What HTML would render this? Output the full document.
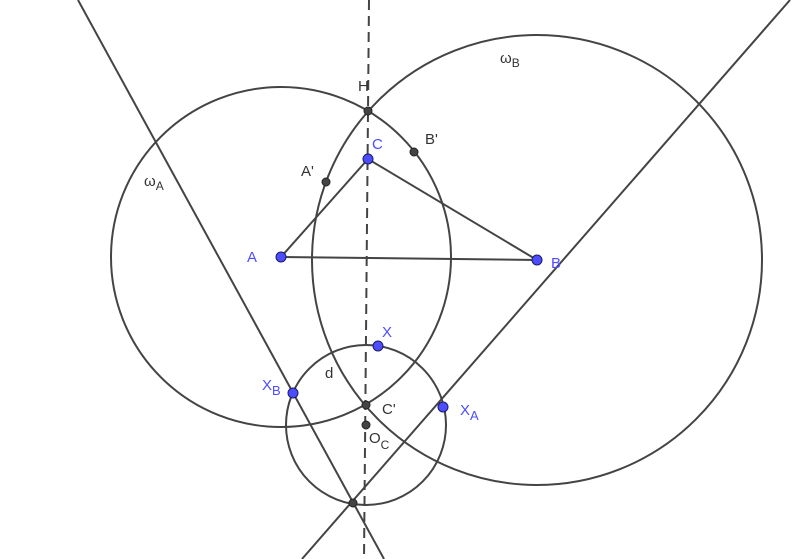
<!DOCTYPE html>
<html><head><style>html,body{margin:0;padding:0;background:#fff;width:806px;height:559px;overflow:hidden}
text{font-family:"Liberation Sans",sans-serif;font-size:15px}</style></head><body>
<svg width="806" height="559" viewBox="0 0 806 559">
<g fill="none" stroke="#444" stroke-width="2">
<circle cx="281" cy="257" r="170"/>
<circle cx="537" cy="260" r="225"/>
<circle cx="366" cy="425" r="80"/>
<line x1="369" y1="0" x2="364" y2="559" stroke-dasharray="10,6"/>
<line x1="78" y1="0" x2="384" y2="559"/>
<line x1="790" y1="0" x2="302" y2="559"/>
<line x1="281" y1="257" x2="368" y2="159"/>
<line x1="368" y1="159" x2="537" y2="260"/>
<line x1="281" y1="257" x2="537" y2="260"/>
</g>
<g fill="#444" stroke="#222" stroke-width="1">
<circle cx="368" cy="111" r="4"/><circle cx="326" cy="182" r="4"/><circle cx="414" cy="152" r="4"/>
<circle cx="366" cy="405" r="4"/><circle cx="366" cy="425" r="4"/><circle cx="353" cy="503" r="4"/>
</g>
<g fill="#4d4dff" stroke="#1a1a66" stroke-width="1">
<circle cx="368" cy="159" r="5"/><circle cx="281" cy="257" r="5"/><circle cx="537" cy="260" r="5"/>
<circle cx="378" cy="346" r="5"/><circle cx="293" cy="393" r="5"/><circle cx="443" cy="407" r="5"/>
</g>
<g fill="#333">
<text x="358" y="91">H</text>
<text x="301" y="176">A'</text>
<text x="425" y="144">B'</text>
<text x="382" y="414">C'</text>
<text x="369" y="443">O<tspan font-size="12" dy="6">C</tspan></text>
<text x="325" y="378">d</text>
<text x="144" y="186">ω<tspan font-size="12" dy="4">A</tspan></text>
<text x="500" y="63">ω<tspan font-size="12" dy="4">B</tspan></text>
</g>
<g fill="#4d4dff">
<text x="372" y="149">C</text>
<text x="247" y="262">A</text>
<text x="551" y="268">B</text>
<text x="382" y="337">X</text>
<text x="262" y="390">X<tspan font-size="13" dy="5">B</tspan></text>
<text x="460" y="415">X<tspan font-size="13" dy="5">A</tspan></text>
</g>
</svg></body></html>
